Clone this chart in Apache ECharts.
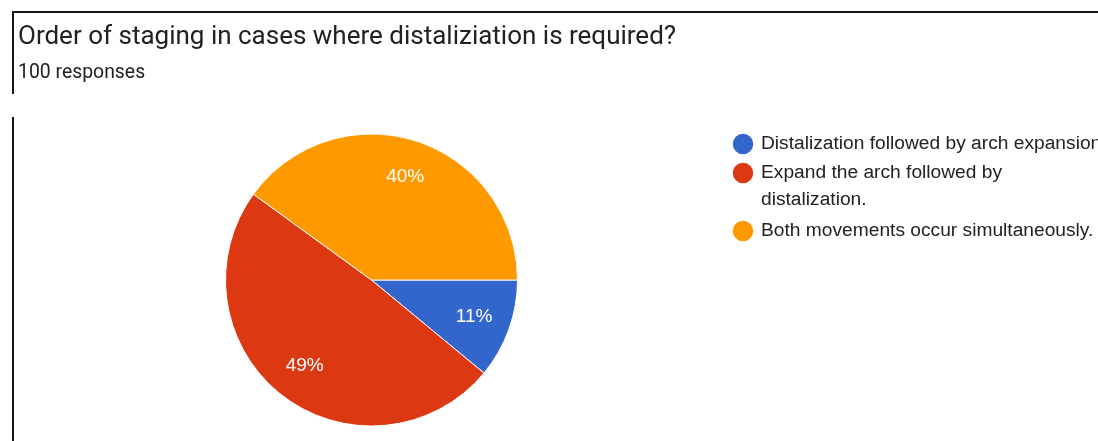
<!DOCTYPE html>
<html>
<head>
<meta charset="utf-8">
<title>Order of staging in cases where distaliziation is required?</title>
<script src="https://cdn.jsdelivr.net/npm/echarts@6/dist/echarts.min.js"></script>
<style>
  html, body { margin: 0; padding: 0; background: #ffffff; }
  #chart { width: 1098px; height: 441px; }
</style>
</head>
<body>
<div id="chart"></div>
<script>
// Survey answers: share of the 100 responses for each option
const categories = [
  'Distalization followed by arch expansion',
  'Expand the arch followed by distalization.',
  'Both movements occur simultaneously.'
];
const values = [11, 49, 40];
const colors = ['#3366cc', '#dc3912', '#ff9900'];

const titleText = 'Order of staging in cases where distaliziation is required?';
const subtitleText = '100 responses';

const pieData = categories.map((name, i) => ({ name, value: values[i] }));

const legendFont = {
  fontFamily: 'Liberation Sans, Arial, sans-serif',
  fontSize: 19.2,
  color: '#222222'
};

// One legend block per option so the wrapped entry keeps its dot on the first line
function legendBlock(i, top, extra) {
  return Object.assign({
    data: [categories[i]],
    orient: 'vertical',
    left: 730.75,
    top: top,
    padding: 0,
    icon: 'circle',
    itemWidth: 22.5,
    itemHeight: 22.5,
    selectedMode: false,
    textStyle: Object.assign({}, legendFont, { lineHeight: 17, padding: [0, 0, 0, 1.75] })
  }, extra || {});
}

const chart = echarts.init(document.getElementById('chart'), null, { renderer: 'canvas' });

chart.setOption({
  backgroundColor: '#ffffff',
  animation: false,
  color: colors,
  title: [
    {
      text: titleText,
      left: 18,
      top: 24,
      padding: 0,
      textStyle: { fontFamily: 'Roboto, sans-serif', fontSize: 26, fontWeight: 'normal', color: '#202124' }
    },
    {
      text: subtitleText,
      left: 18,
      top: 63.3,
      padding: 0,
      textStyle: { fontFamily: 'Roboto, sans-serif', fontSize: 19.4, fontWeight: 'normal', color: '#202124' }
    }
  ],
  legend: [
    legendBlock(0, 131.75),
    legendBlock(1, 132.5, {
      // blank first line keeps the dot level with "Expand ..." while the text wraps below
      formatter: name => '\u00a0\n' + name.replace('followed by ', 'followed by\n'),
      textStyle: Object.assign({}, legendFont, { lineHeight: 27, padding: [0, 0, 0, 1.75] })
    }),
    legendBlock(2, 218.75)
  ],
  graphic: [
    // card edges
    { type: 'line', shape: { x1: 12, y1: 12, x2: 1098, y2: 12 }, style: { stroke: '#151515', lineWidth: 2 } },
    { type: 'line', shape: { x1: 13, y1: 11, x2: 13, y2: 94 }, style: { stroke: '#151515', lineWidth: 2 } },
    { type: 'line', shape: { x1: 13, y1: 117, x2: 13, y2: 441 }, style: { stroke: '#151515', lineWidth: 2 } }
  ],
  series: [
    {
      name: 'slices',
      type: 'pie',
      center: [371.5, 280],
      radius: [0, 146],
      startAngle: 0,
      clockwise: true,
      avoidLabelOverlap: false,
      silent: true,
      data: pieData,
      label: { show: false },
      labelLine: { show: false },
      itemStyle: { borderColor: '#ffffff', borderWidth: 1 }
    },
    {
      // transparent ring that carries the percentage labels further out
      name: 'labels',
      type: 'pie',
      center: [371.5, 280],
      radius: [66, 146],
      startAngle: 0,
      clockwise: true,
      avoidLabelOverlap: false,
      silent: true,
      percentPrecision: 0,
      data: pieData,
      itemStyle: { color: 'rgba(0,0,0,0)' },
      label: {
        show: true,
        position: 'inside',
        formatter: '{d}%',
        color: '#ffffff',
        fontFamily: 'Liberation Sans, Arial, sans-serif',
        fontSize: 19
      },
      labelLine: { show: false },
      emphasis: { disabled: true }
    }
  ]
});
</script>
</body>
</html>
